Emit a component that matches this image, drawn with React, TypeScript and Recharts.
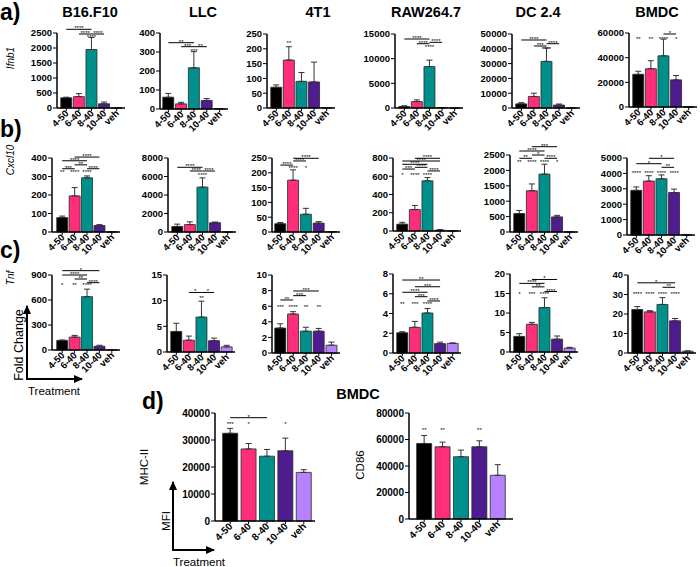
import React from "react";
import {
  BarChart,
  Bar,
  Cell,
  XAxis,
  YAxis,
  ErrorBar,
  ReferenceLine,
  ReferenceDot,
} from "recharts";

const FONT = 'Arial, "Liberation Sans", Helvetica, sans-serif';

const CATS = ["4-50", "6-40", "8-40", "10-40", "veh"];
const COLORS = ["#000000", "#ff2e7b", "#00908c", "#4e1c8e", "#b782ff"];

type Star = { x: string; y: number; t: string };
type Bracket = { a: string; b: string; y: number; t: string };

// a) Ifnb1
const IFN_B16 = [340, 380, 1950, 140, 1];
const IFN_B16_ERR = [20, 100, 400, 60, 0];
const IFN_B16_TICKS = [0, 500, 1000, 1500, 2000, 2500];
const IFN_B16_STARS: Star[] = [{ x: "8-40", y: 2357, t: "****" }];
const IFN_B16_BR: Bracket[] = [
  { a: "4-50", b: "8-40", y: 2623, t: "****" },
  { a: "6-40", b: "8-40", y: 2467, t: "****" },
  { a: "8-40", b: "10-40", y: 2467, t: "****" },
];

const IFN_LLC = [62, 27, 217, 45, 1];
const IFN_LLC_ERR = [20, 8, 85, 10, 0];
const IFN_LLC_TICKS = [0, 100, 200, 300, 400];
const IFN_LLC_STARS: Star[] = [{ x: "8-40", y: 307, t: "***" }];
const IFN_LLC_BR: Bracket[] = [
  { a: "4-50", b: "8-40", y: 349, t: "**" },
  { a: "6-40", b: "8-40", y: 328, t: "***" },
  { a: "8-40", b: "10-40", y: 328, t: "**" },
];

const IFN_4T1 = [70, 162, 90, 88, 1];
const IFN_4T1_ERR = [8, 45, 30, 67, 0];
const IFN_4T1_TICKS = [0, 50, 100, 150, 200, 250];
const IFN_4T1_STARS: Star[] = [{ x: "6-40", y: 220, t: "**" }];
const IFN_4T1_BR: Bracket[] = [];

const IFN_RAW = [300, 1300, 8400, 50, 1];
const IFN_RAW_ERR = [150, 350, 1300, 30, 0];
const IFN_RAW_TICKS = [0, 5000, 10000, 15000];
const IFN_RAW_STARS: Star[] = [{ x: "8-40", y: 12430, t: "****" }];
const IFN_RAW_BR: Bracket[] = [
  { a: "4-50", b: "8-40", y: 13986, t: "****" },
  { a: "6-40", b: "8-40", y: 13030, t: "****" },
  { a: "8-40", b: "10-40", y: 13311, t: "****" },
];

const IFN_DC = [2800, 7800, 31500, 2000, 1];
const IFN_DC_ERR = [800, 2200, 9000, 700, 0];
const IFN_DC_TICKS = [0, 10000, 20000, 30000, 40000, 50000];
const IFN_DC_STARS: Star[] = [{ x: "8-40", y: 40070, t: "****" }];
const IFN_DC_BR: Bracket[] = [
  { a: "4-50", b: "8-40", y: 45946, t: "****" },
  { a: "6-40", b: "8-40", y: 41900, t: "***" },
  { a: "8-40", b: "10-40", y: 43440, t: "****" },
];

const IFN_BMDC = [26500, 31000, 41500, 22000, 1];
const IFN_BMDC_ERR = [2500, 6500, 13500, 3500, 0];
const IFN_BMDC_TICKS = [0, 20000, 40000, 60000];
const IFN_BMDC_STARS: Star[] = [
  { x: "4-50", y: 55380, t: "**" },
  { x: "6-40", y: 55380, t: "**" },
  { x: "8-40", y: 55380, t: "****" },
  { x: "10-40", y: 55380, t: "*" },
];
const IFN_BMDC_BR: Bracket[] = [{ a: "8-40", b: "10-40", y: 59190, t: "*" }];

// b) Cxcl10
const CXCL_B16 = [78, 195, 293, 35, 1];
const CXCL_B16_ERR = [8, 45, 10, 5, 0];
const CXCL_B16_TICKS = [0, 100, 200, 300, 400];
const CXCL_B16_STARS: Star[] = [
  { x: "4-50", y: 324, t: "**" },
  { x: "6-40", y: 324, t: "****" },
  { x: "8-40", y: 324, t: "****" },
];
const CXCL_B16_BR: Bracket[] = [
  { a: "4-50", b: "6-40", y: 342, t: "***" },
  { a: "8-40", b: "10-40", y: 342, t: "****" },
  { a: "6-40", b: "8-40", y: 363, t: "**" },
  { a: "4-50", b: "8-40", y: 385, t: "****" },
  { a: "6-40", b: "10-40", y: 405, t: "****" },
];

const CXCL_LLC = [600, 800, 4850, 1000, 1];
const CXCL_LLC_ERR = [250, 300, 1000, 80, 0];
const CXCL_LLC_TICKS = [0, 2000, 4000, 6000, 8000];
const CXCL_LLC_STARS: Star[] = [{ x: "8-40", y: 6162, t: "****" }];
const CXCL_LLC_BR: Bracket[] = [
  { a: "4-50", b: "8-40", y: 6995, t: "****" },
  { a: "6-40", b: "8-40", y: 6595, t: "****" },
  { a: "8-40", b: "10-40", y: 6595, t: "****" },
];

const CXCL_4T1 = [28, 175, 60, 30, 1];
const CXCL_4T1_ERR = [4, 35, 20, 5, 0];
const CXCL_4T1_TICKS = [0, 50, 100, 150, 200, 250];
const CXCL_4T1_STARS: Star[] = [
  { x: "6-40", y: 215, t: "****" },
  { x: "8-40", y: 215, t: "*" },
];
const CXCL_4T1_BR: Bracket[] = [
  { a: "4-50", b: "6-40", y: 226, t: "****" },
  { a: "6-40", b: "8-40", y: 240, t: "****" },
  { a: "6-40", b: "10-40", y: 249, t: "****" },
];

const CXCL_RAW = [75, 235, 550, 8, 1];
const CXCL_RAW_ERR = [20, 45, 35, 8, 0];
const CXCL_RAW_TICKS = [0, 200, 400, 600, 800];
const CXCL_RAW_STARS: Star[] = [
  { x: "4-50", y: 614, t: "*" },
  { x: "6-40", y: 614, t: "****" },
  { x: "8-40", y: 614, t: "****" },
];
const CXCL_RAW_BR: Bracket[] = [
  { a: "8-40", b: "10-40", y: 658, t: "****" },
  { a: "4-50", b: "6-40", y: 679, t: "***" },
  { a: "6-40", b: "8-40", y: 698, t: "****" },
  { a: "4-50", b: "8-40", y: 731, t: "****" },
  { a: "4-50", b: "10-40", y: 767, t: "****" },
  { a: "6-40", b: "10-40", y: 797, t: "****" },
];

const CXCL_DC = [600, 1340, 1880, 490, 1];
const CXCL_DC_ERR = [100, 220, 320, 50, 0];
const CXCL_DC_TICKS = [0, 500, 1000, 1500, 2000, 2500];
const CXCL_DC_STARS: Star[] = [
  { x: "4-50", y: 2263, t: "**" },
  { x: "6-40", y: 2263, t: "****" },
  { x: "8-40", y: 2263, t: "****" },
  { x: "10-40", y: 2263, t: "*" },
];
const CXCL_DC_BR: Bracket[] = [
  { a: "4-50", b: "6-40", y: 2393, t: "**" },
  { a: "8-40", b: "10-40", y: 2393, t: "****" },
  { a: "6-40", b: "8-40", y: 2500, t: "*" },
  { a: "4-50", b: "8-40", y: 2630, t: "****" },
  { a: "6-40", b: "10-40", y: 2769, t: "***" },
];

const CXCL_BMDC = [2900, 3500, 3650, 2760, 1];
const CXCL_BMDC_ERR = [220, 350, 250, 220, 0];
const CXCL_BMDC_TICKS = [0, 1000, 2000, 3000, 4000, 5000];
const CXCL_BMDC_STARS: Star[] = [
  { x: "4-50", y: 4045, t: "****" },
  { x: "6-40", y: 4045, t: "****" },
  { x: "8-40", y: 4045, t: "****" },
  { x: "10-40", y: 4045, t: "****" },
];
const CXCL_BMDC_BR: Bracket[] = [
  { a: "8-40", b: "10-40", y: 4396, t: "**" },
  { a: "4-50", b: "8-40", y: 4630, t: "*" },
  { a: "6-40", b: "10-40", y: 4980, t: "*" },
];

// c) Tnf
const TNF_B16 = [115, 155, 640, 45, 1];
const TNF_B16_ERR = [5, 20, 90, 12, 0];
const TNF_B16_TICKS = [0, 300, 600, 900];
const TNF_B16_STARS: Star[] = [
  { x: "4-50", y: 780, t: "*" },
  { x: "6-40", y: 780, t: "**" },
  { x: "8-40", y: 780, t: "****" },
];
const TNF_B16_BR: Bracket[] = [
  { a: "8-40", b: "10-40", y: 808, t: "****" },
  { a: "6-40", b: "8-40", y: 852, t: "**" },
  { a: "4-50", b: "8-40", y: 900, t: "****" },
  { a: "4-50", b: "10-40", y: 952, t: "*" },
];

const TNF_LLC = [4.0, 2.3, 6.8, 2.2, 1.0];
const TNF_LLC_ERR = [1.6, 0.8, 3.1, 0.5, 0.3];
const TNF_LLC_TICKS = [0, 5, 10, 15];
const TNF_LLC_STARS: Star[] = [{ x: "8-40", y: 10.5, t: "**" }];
const TNF_LLC_BR: Bracket[] = [
  { a: "6-40", b: "8-40", y: 11.6, t: "*" },
  { a: "8-40", b: "10-40", y: 11.6, t: "*" },
];

const TNF_4T1 = [3.2, 5.0, 2.8, 2.8, 1.0];
const TNF_4T1_ERR = [0.55, 0.3, 0.5, 0.35, 0.4];
const TNF_4T1_TICKS = [0, 2, 4, 6, 8, 10];
const TNF_4T1_STARS: Star[] = [
  { x: "4-50", y: 5.94, t: "***" },
  { x: "6-40", y: 5.94, t: "****" },
  { x: "8-40", y: 5.94, t: "**" },
  { x: "10-40", y: 5.94, t: "**" },
];
const TNF_4T1_BR: Bracket[] = [
  { a: "4-50", b: "6-40", y: 6.8, t: "**" },
  { a: "6-40", b: "8-40", y: 7.35, t: "***" },
  { a: "6-40", b: "10-40", y: 7.95, t: "***" },
];

const TNF_RAW = [2.05, 2.6, 4.05, 0.95, 0.97];
const TNF_RAW_ERR = [0.1, 0.6, 0.45, 0.15, 0.05];
const TNF_RAW_TICKS = [0, 2, 4, 6, 8];
const TNF_RAW_STARS: Star[] = [
  { x: "4-50", y: 4.93, t: "**" },
  { x: "6-40", y: 4.93, t: "***" },
  { x: "8-40", y: 4.93, t: "****" },
];
const TNF_RAW_BR: Bracket[] = [
  { a: "8-40", b: "10-40", y: 5.27, t: "****" },
  { a: "6-40", b: "8-40", y: 5.7, t: "***" },
  { a: "4-50", b: "8-40", y: 6.15, t: "****" },
  { a: "6-40", b: "10-40", y: 6.71, t: "***" },
  { a: "4-50", b: "10-40", y: 7.39, t: "**" },
];

const TNF_DC = [4.0, 7.1, 11.4, 3.3, 1.0];
const TNF_DC_ERR = [0.7, 0.5, 2.5, 0.8, 0.2];
const TNF_DC_TICKS = [0, 5, 10, 15, 20];
const TNF_DC_STARS: Star[] = [
  { x: "4-50", y: 14.8, t: "*" },
  { x: "6-40", y: 14.8, t: "***" },
  { x: "8-40", y: 14.8, t: "****" },
];
const TNF_DC_BR: Bracket[] = [
  { a: "8-40", b: "10-40", y: 15.5, t: "****" },
  { a: "6-40", b: "8-40", y: 16.7, t: "**" },
  { a: "4-50", b: "8-40", y: 17.6, t: "****" },
  { a: "6-40", b: "10-40", y: 18.6, t: "*" },
];

const TNF_BMDC = [22.3, 21.1, 24.9, 16.5, 0.9];
const TNF_BMDC_ERR = [1.5, 0.6, 3.5, 1.2, 0.2];
const TNF_BMDC_TICKS = [0, 10, 20, 30, 40];
const TNF_BMDC_STARS: Star[] = [
  { x: "4-50", y: 30.1, t: "****" },
  { x: "6-40", y: 30.1, t: "****" },
  { x: "8-40", y: 30.1, t: "****" },
  { x: "10-40", y: 30.1, t: "****" },
];
const TNF_BMDC_BR: Bracket[] = [
  { a: "8-40", b: "10-40", y: 33.7, t: "**" },
  { a: "4-50", b: "10-40", y: 36, t: "*" },
];

// d) BMDC flow
const MHC = [32500, 26700, 24000, 26000, 18000];
const MHC_ERR = [1800, 2000, 2500, 4700, 1000];
const MHC_TICKS = [0, 10000, 20000, 30000, 40000];
const MHC_STARS: Star[] = [
  { x: "4-50", y: 35800, t: "***" },
  { x: "6-40", y: 35800, t: "*" },
  { x: "10-40", y: 35800, t: "*" },
];
const MHC_BR: Bracket[] = [{ a: "4-50", b: "8-40", y: 38260, t: "*" }];

const CD86 = [57000, 54500, 47000, 54500, 33000];
const CD86_ERR = [6000, 3500, 5000, 4500, 8000];
const CD86_TICKS = [0, 20000, 40000, 60000, 80000];
const CD86_STARS: Star[] = [
  { x: "4-50", y: 67170, t: "**" },
  { x: "6-40", y: 67170, t: "**" },
  { x: "10-40", y: 67170, t: "**" },
];
const CD86_BR: Bracket[] = [];

function XTick(props: any) {
  const { x, y, payload, fs } = props;
  const ax = x + 3;
  const ay = y + 2;
  return (
    <text
      x={ax}
      y={ay}
      transform={`rotate(-45 ${ax} ${ay})`}
      textAnchor="end"
      fontSize={fs}
      fontWeight="bold"
      fontFamily={FONT}
      fill="#000"
    >
      {payload.value}
    </text>
  );
}

type PanelProps = {
  left: number;
  top: number;
  w: number;
  h: number;
  padL: number;
  padR: number;
  mean: number[];
  err: number[];
  ticks: number[];
  stars: Star[];
  br: Bracket[];
  gap?: string;
  fs?: number;
  yfs?: number;
};

function Panel({ left, top, w, h, padL, padR, mean, err, ticks, stars, br, gap = "6%", fs = 9.5, yfs = 9.5 }: PanelProps) {
  const data = CATS.map((c, i) => ({ name: c, v: mean[i], e: [0, err[i]] }));
  const ML = 40;
  const MT = 24;
  const MB = 36;
  const max = ticks[ticks.length - 1];
  return (
    <div style={{ position: "absolute", left: left - ML, top: top - MT }}>
      <BarChart
        width={ML + w + 8}
        height={MT + h + MB}
        data={data}
        margin={{ top: MT, right: 8, bottom: 0, left: 0 }}
        barCategoryGap={gap}
      >
        <XAxis
          dataKey="name"
          height={MB}
          interval={0}
          padding={{ left: padL, right: padR }}
          tick={<XTick fs={fs} />}
          tickSize={3}
          tickMargin={1}
          tickLine={{ stroke: "#000", strokeWidth: 1 }}
          axisLine={{ stroke: "#000", strokeWidth: 1.5 }}
        />
        <YAxis
          width={ML}
          domain={[0, max]}
          ticks={ticks}
          interval={0}
          tickSize={4}
          tickMargin={1}
          tickLine={{ stroke: "#000", strokeWidth: 1 }}
          axisLine={{ stroke: "#000", strokeWidth: 1.5 }}
          tick={{ fill: "#000", fontSize: yfs, fontWeight: "bold", fontFamily: FONT }}
        />
        <Bar dataKey="v" isAnimationActive={false} stroke="#2a2a2a" strokeWidth={0.8}>
          {data.map((d, i) => (
            <Cell key={d.name} fill={COLORS[i]} />
          ))}
          <ErrorBar dataKey="e" width={3} stroke="#333" strokeWidth={1} direction="y" />
        </Bar>
        {br.map((b, i) => (
          <ReferenceLine
            key={"b" + i}
            segment={[
              { x: b.a, y: b.y },
              { x: b.b, y: b.y },
            ]}
            stroke="#000"
            strokeWidth={1}
            ifOverflow="visible"
            label={{ value: b.t, position: "top", offset: -1, fontSize: 6, fill: "#000", fontFamily: FONT }}
          />
        ))}
        {stars.map((s, i) => (
          <ReferenceDot
            key={"s" + i}
            x={s.x}
            y={s.y}
            r={0}
            stroke="none"
            fill="none"
            ifOverflow="visible"
            label={{ value: s.t, position: "center", fontSize: 6, fill: "#000", fontFamily: FONT }}
          />
        ))}
      </BarChart>
    </div>
  );
}

const W = 68;

export default function App() {
  return (
    <div
      style={{
        position: "absolute",
        left: 0,
        top: 0,
        width: 700,
        height: 567,
        background: "#fff",
        overflow: "hidden",
        fontFamily: FONT,
      }}
    >
      {/* row a */}
      <Panel left={57} top={33} w={W} h={75} padL={3} padR={2} mean={IFN_B16} err={IFN_B16_ERR} ticks={IFN_B16_TICKS} stars={IFN_B16_STARS} br={IFN_B16_BR} />
      <Panel left={160} top={33} w={W} h={76} padL={2} padR={2} mean={IFN_LLC} err={IFN_LLC_ERR} ticks={IFN_LLC_TICKS} stars={IFN_LLC_STARS} br={IFN_LLC_BR} />
      <Panel left={267} top={34} w={W} h={74} padL={3} padR={2} mean={IFN_4T1} err={IFN_4T1_ERR} ticks={IFN_4T1_TICKS} stars={IFN_4T1_STARS} br={IFN_4T1_BR} />
      <Panel left={395} top={34} w={W} h={74} padL={3} padR={2} mean={IFN_RAW} err={IFN_RAW_ERR} ticks={IFN_RAW_TICKS} stars={IFN_RAW_STARS} br={IFN_RAW_BR} />
      <Panel left={512} top={34} w={W} h={74} padL={3} padR={2} mean={IFN_DC} err={IFN_DC_ERR} ticks={IFN_DC_TICKS} stars={IFN_DC_STARS} br={IFN_DC_BR} />
      <Panel left={629} top={33} w={W} h={74} padL={3} padR={2} mean={IFN_BMDC} err={IFN_BMDC_ERR} ticks={IFN_BMDC_TICKS} stars={IFN_BMDC_STARS} br={IFN_BMDC_BR} />

      {/* row b */}
      <Panel left={52} top={158} w={W} h={74} padL={4} padR={2} mean={CXCL_B16} err={CXCL_B16_ERR} ticks={CXCL_B16_TICKS} stars={CXCL_B16_STARS} br={CXCL_B16_BR} />
      <Panel left={168} top={158} w={W} h={74} padL={3} padR={2} mean={CXCL_LLC} err={CXCL_LLC_ERR} ticks={CXCL_LLC_TICKS} stars={CXCL_LLC_STARS} br={CXCL_LLC_BR} />
      <Panel left={272} top={158} w={W} h={74} padL={2} padR={2} mean={CXCL_4T1} err={CXCL_4T1_ERR} ticks={CXCL_4T1_TICKS} stars={CXCL_4T1_STARS} br={CXCL_4T1_BR} />
      <Panel left={393} top={158} w={W} h={73} padL={3} padR={2} mean={CXCL_RAW} err={CXCL_RAW_ERR} ticks={CXCL_RAW_TICKS} stars={CXCL_RAW_STARS} br={CXCL_RAW_BR} />
      <Panel left={510} top={155} w={W} h={77} padL={3} padR={2} mean={CXCL_DC} err={CXCL_DC_ERR} ticks={CXCL_DC_TICKS} stars={CXCL_DC_STARS} br={CXCL_DC_BR} />
      <Panel left={627} top={158} w={W} h={77} padL={3} padR={2} mean={CXCL_BMDC} err={CXCL_BMDC_ERR} ticks={CXCL_BMDC_TICKS} stars={CXCL_BMDC_STARS} br={CXCL_BMDC_BR} />

      {/* row c */}
      <Panel left={52} top={275} w={W} h={75} padL={4} padR={2} mean={TNF_B16} err={TNF_B16_ERR} ticks={TNF_B16_TICKS} stars={TNF_B16_STARS} br={TNF_B16_BR} />
      <Panel left={167} top={275} w={W} h={77} padL={3} padR={2} mean={TNF_LLC} err={TNF_LLC_ERR} ticks={TNF_LLC_TICKS} stars={TNF_LLC_STARS} br={TNF_LLC_BR} />
      <Panel left={272} top={275} w={W} h={78} padL={2} padR={2} mean={TNF_4T1} err={TNF_4T1_ERR} ticks={TNF_4T1_TICKS} stars={TNF_4T1_STARS} br={TNF_4T1_BR} />
      <Panel left={393} top={274} w={W} h={79} padL={3} padR={2} mean={TNF_RAW} err={TNF_RAW_ERR} ticks={TNF_RAW_TICKS} stars={TNF_RAW_STARS} br={TNF_RAW_BR} />
      <Panel left={510} top={274} w={W} h={78} padL={3} padR={2} mean={TNF_DC} err={TNF_DC_ERR} ticks={TNF_DC_TICKS} stars={TNF_DC_STARS} br={TNF_DC_BR} />
      <Panel left={628} top={275} w={W} h={78} padL={3} padR={2} mean={TNF_BMDC} err={TNF_BMDC_ERR} ticks={TNF_BMDC_TICKS} stars={TNF_BMDC_STARS} br={TNF_BMDC_BR} />

      {/* row d */}
      <Panel left={215} top={413} w={100} h={108} padL={6} padR={2} gap="9%" fs={10} yfs={10} mean={MHC} err={MHC_ERR} ticks={MHC_TICKS} stars={MHC_STARS} br={MHC_BR} />
      <Panel left={409} top={413} w={104} h={106} padL={6} padR={6} gap="9%" fs={10} yfs={10} mean={CD86} err={CD86_ERR} ticks={CD86_TICKS} stars={CD86_STARS} br={CD86_BR} />

      <svg width={700} height={567} style={{ position: "absolute", left: 0, top: 0, pointerEvents: "none" }} fontFamily={FONT}>
        <defs>
          <marker id="ah" markerUnits="userSpaceOnUse" markerWidth={9} markerHeight={8} refX={8} refY={4} orient="auto">
            <path d="M0,0 L9,4 L0,8 z" fill="#000" />
          </marker>
        </defs>
        <g fontWeight="bold" fill="#000">
          <text x={0} y={20} fontSize={23}>a)</text>
          <text x={0} y={137} fontSize={23}>b)</text>
          <text x={0} y={258} fontSize={23}>c)</text>
          <text x={142} y={409} fontSize={23}>d)</text>
        </g>
        <g fontWeight="bold" fontSize={14.5} fill="#000" textAnchor="middle">
          <text x={90} y={17}>B16.F10</text>
          <text x={203} y={17}>LLC</text>
          <text x={318} y={17}>4T1</text>
          <text x={426} y={17}>RAW264.7</text>
          <text x={538} y={17}>DC 2.4</text>
          <text x={657} y={17}>BMDC</text>
          <text x={358} y={399}>BMDC</text>
        </g>
        <g fontStyle="italic" fontSize={10} fill="#000" textAnchor="middle">
          <text transform="translate(14 58) rotate(-90)">Ifnb1</text>
          <text transform="translate(14 160) rotate(-90)">Cxcl10</text>
          <text transform="translate(14 278) rotate(-90)">Tnf</text>
        </g>
        <g fontSize={12.5} fill="#000" textAnchor="middle">
          <text transform="translate(23 345) rotate(-90)">{"Fold  Change"}</text>
          <text x={54} y={395} fontSize={11.5}>Treatment</text>
        </g>
        <line x1={27} y1={379} x2={27} y2={306} stroke="#000" strokeWidth={2} markerEnd="url(#ah)" />
        <line x1={26} y1={379} x2={82} y2={379} stroke="#000" strokeWidth={2} markerEnd="url(#ah)" />
        <g fontSize={11.5} fill="#000" textAnchor="middle">
          <text transform="translate(148 467) rotate(-90)">MHC-II</text>
          <text transform="translate(170 521) rotate(-90)">MFI</text>
          <text transform="translate(364 465) rotate(-90)">CD86</text>
          <text x={199} y={566}>Treatment</text>
        </g>
        <line x1={173} y1={550} x2={173} y2={482} stroke="#000" strokeWidth={2} markerEnd="url(#ah)" />
        <line x1={172} y1={550} x2={214} y2={550} stroke="#000" strokeWidth={2} markerEnd="url(#ah)" />
      </svg>
    </div>
  );
}
